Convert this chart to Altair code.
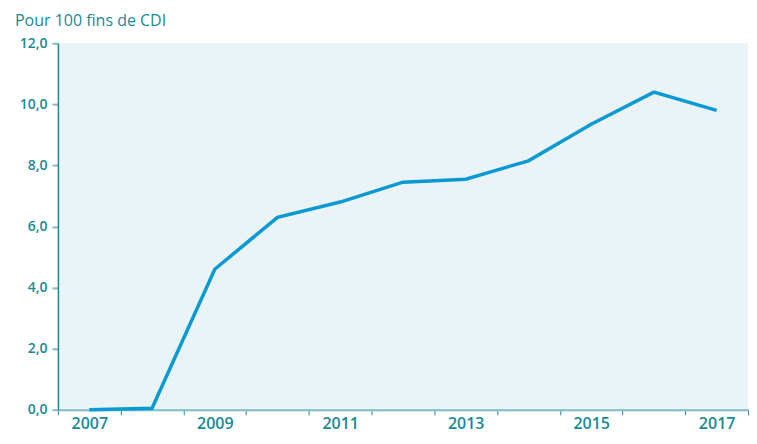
import altair as alt
import pandas as pd

years = ["2007", "2008", "2009", "2010", "2011", "2012", "2013", "2014", "2015", "2016", "2017"]
values = [0.0, 0.05, 4.6, 6.3, 6.8, 7.45, 7.55, 8.15, 9.35, 10.4, 9.8]
y_ticks = [0, 2, 4, 6, 8, 10, 12]

df = pd.DataFrame({"annee": years, "valeur": values})

TEAL = "#1a8a96"
FONT = "Open Sans"

chart = alt.Chart(df).mark_line(color="#0a9ad3", strokeWidth=3.5, strokeCap="butt", strokeJoin="miter").encode(
    x=alt.X("annee:O", title=None,
            scale=alt.Scale(paddingInner=0, paddingOuter=0),
            axis=alt.Axis(labelAngle=0, tickBand="extent", tickSize=5, tickColor=TEAL,
                          domainColor="#7cbcc2", domainWidth=2,
                          labelExpr="toNumber(datum.value) % 2 == 1 ? datum.value : ''",
                          labelPadding=1, labelFontSize=16, labelColor=TEAL, labelFont=FONT,
                          labelFontWeight=600)),
    y=alt.Y("valeur:Q", title=None,
            scale=alt.Scale(domain=[0, 12], nice=False),
            axis=alt.Axis(values=y_ticks, grid=False, tickSize=6, tickColor="#7cbcc2", tickWidth=2,
                          domainColor=TEAL, domainWidth=1.5,
                          labelExpr="replace(format(datum.value, '.1f'), '.', ',')",
                          labelPadding=5, labelFontSize=14, labelColor=TEAL, labelFont=FONT,
                          labelFontWeight=600, minExtent=50, maxExtent=50)),
).properties(
    width=691,
    height=367,
    title=alt.TitleParams("Pour 100 fins de CDI", anchor="start", frame="bounds", fontSize=16,
                          fontWeight="normal", color=TEAL, font=FONT, dx=7, offset=7),
    padding={"left": 0, "top": 5, "right": 0, "bottom": 2},
).configure_view(
    fill="#eaf4f7", stroke=None
)

chart.save("out.html", embed_options={"renderer": "svg", "actions": False})
